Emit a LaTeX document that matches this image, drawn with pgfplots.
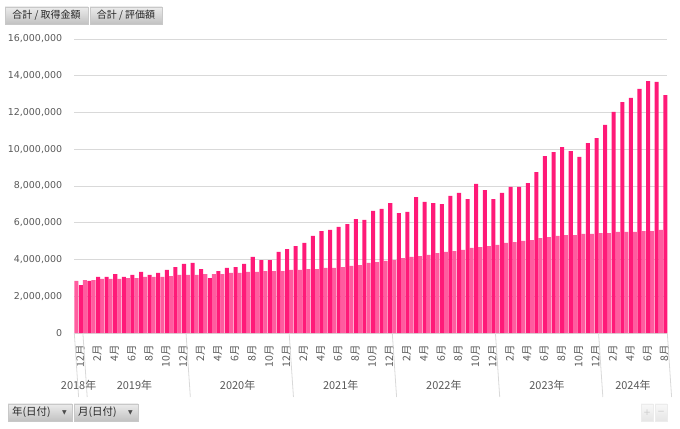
\documentclass[border=0pt]{standalone}
\usepackage{pgfplots}
\pgfplotsset{compat=1.18}
\usepackage{fontspec}
\setmainfont{DejaVu Sans}
\newfontfamily\jp{Noto Sans CJK JP}
\definecolor{darkpink}{HTML}{FF1A78}
\definecolor{lightpink}{HTML}{FF5C9F}
\definecolor{gridgray}{HTML}{D9D9D9}
\definecolor{labelgray}{HTML}{595959}
\definecolor{btntop}{HTML}{EBEBEB}
\definecolor{btnbot}{HTML}{C2C2C2}
\definecolor{btnedge}{HTML}{C8C8C8}
\begin{document}
\begin{tikzpicture}
\useasboundingbox (0,0) rectangle (680bp,429bp);
\begin{axis}[
  at={(74.3bp,96bp)}, anchor=south west,
  scale only axis, width=593bp, height=294bp,
  xmin=-0.5, xmax=68.5, ymin=0, ymax=16000000,
  ybar=0.5bp, bar width=0.47,
  clip=false,
  axis line style={draw=none},
  major tick length=0pt,
  ymajorgrids, grid style={gridgray, line width=0.8bp},
  ytick={0,2000000,4000000,6000000,8000000,10000000,12000000,14000000,16000000},
  scaled y ticks=false,
  yticklabel style={font=\fontsize{9.5}{11}\selectfont, text=labelgray, inner sep=0pt, anchor=east,
    /pgf/number format/.cd, fixed, 1000 sep={,}, assume math mode=true},
  yticklabel shift=12bp,
  xtick={0,2,...,68},
  xticklabels={12月,2月,4月,6月,8月,10月,12月,2月,4月,6月,8月,10月,12月,2月,4月,6月,8月,10月,12月,2月,4月,6月,8月,10月,12月,2月,4月,6月,8月,10月,12月,2月,4月,6月,8月},
  xticklabel style={font=\jp\fontsize{10.5}{12}\selectfont, text=labelgray, rotate=90, anchor=east, inner sep=0pt, yshift=-1.5bp},
  xticklabel shift=12bp,
]
% 合計 / 取得金額
\addplot[fill=lightpink, draw=none] coordinates {
(0,2830000) (1,2880000) (2,2880000) (3,2940000) (4,2940000) (5,2940000) (6,2990000) (7,2990000) (8,3050000) (9,3050000) (10,3050000) (11,3100000) (12,3160000)
(13,3160000) (14,3160000) (15,3210000) (16,3210000) (17,3210000) (18,3270000) (19,3270000) (20,3320000) (21,3320000) (22,3370000) (23,3370000) (24,3370000)
(25,3430000) (26,3430000) (27,3480000) (28,3480000) (29,3540000) (30,3540000) (31,3590000) (32,3650000) (33,3700000) (34,3810000) (35,3860000) (36,3920000)
(37,3970000) (38,4080000) (39,4140000) (40,4190000) (41,4250000) (42,4350000) (43,4410000) (44,4460000) (45,4520000) (46,4630000) (47,4680000) (48,4730000)
(49,4790000) (50,4900000) (51,4950000) (52,5010000) (53,5060000) (54,5170000) (55,5220000) (56,5280000) (57,5330000) (58,5330000) (59,5390000) (60,5390000)
(61,5440000) (62,5440000) (63,5500000) (64,5500000) (65,5500000) (66,5550000) (67,5550000) (68,5610000)
};
% 合計 / 評価額
\addplot[fill=darkpink, draw=none] coordinates {
(0,2610000) (1,2830000) (2,3050000) (3,3050000) (4,3210000) (5,3050000) (6,3160000) (7,3320000) (8,3160000) (9,3270000) (10,3430000) (11,3590000) (12,3760000)
(13,3810000) (14,3480000) (15,2990000) (16,3370000) (17,3540000) (18,3590000) (19,3760000) (20,4140000) (21,3970000) (22,3970000) (23,4410000) (24,4570000)
(25,4730000) (26,4900000) (27,5280000) (28,5550000) (29,5610000) (30,5770000) (31,5930000) (32,6200000) (33,6150000) (34,6640000) (35,6750000) (36,7070000)
(37,6530000) (38,6590000) (39,7400000) (40,7130000) (41,7070000) (42,7020000) (43,7460000) (44,7620000) (45,7290000) (46,8110000) (47,7780000) (48,7290000)
(49,7620000) (50,7950000) (51,7950000) (52,8160000) (53,8760000) (54,9630000) (55,9850000) (56,10120000) (57,9900000) (58,9580000) (59,10340000) (60,10610000)
(61,11320000) (62,12030000) (63,12570000) (64,12790000) (65,13280000) (66,13710000) (67,13660000) (68,12950000)
};
% year separators
\draw[gridgray, line width=0.8bp] (axis cs:-0.5,0) -- ++(0,-64bp);
\draw[gridgray, line width=0.8bp] (axis cs:0.5,0) -- ++(0,-64bp);
\draw[gridgray, line width=0.8bp] (axis cs:12.5,0) -- ++(0,-64bp);
\draw[gridgray, line width=0.8bp] (axis cs:24.5,0) -- ++(0,-64bp);
\draw[gridgray, line width=0.8bp] (axis cs:36.5,0) -- ++(0,-64bp);
\draw[gridgray, line width=0.8bp] (axis cs:48.5,0) -- ++(0,-64bp);
\draw[gridgray, line width=0.8bp] (axis cs:60.5,0) -- ++(0,-64bp);
\draw[gridgray, line width=0.8bp] (axis cs:68.5,0) -- ++(0,-64bp);
\node[font=\jp\fontsize{11}{12}\selectfont, text=labelgray, inner sep=0pt] at ([yshift=-52bp]axis cs:0,0) {2018年};
\node[font=\jp\fontsize{11}{12}\selectfont, text=labelgray, inner sep=0pt] at ([yshift=-52bp]axis cs:6.5,0) {2019年};
\node[font=\jp\fontsize{11}{12}\selectfont, text=labelgray, inner sep=0pt] at ([yshift=-52bp]axis cs:18.5,0) {2020年};
\node[font=\jp\fontsize{11}{12}\selectfont, text=labelgray, inner sep=0pt] at ([yshift=-52bp]axis cs:30.5,0) {2021年};
\node[font=\jp\fontsize{11}{12}\selectfont, text=labelgray, inner sep=0pt] at ([yshift=-52bp]axis cs:42.5,0) {2022年};
\node[font=\jp\fontsize{11}{12}\selectfont, text=labelgray, inner sep=0pt] at ([yshift=-52bp]axis cs:54.5,0) {2023年};
\node[font=\jp\fontsize{11}{12}\selectfont, text=labelgray, inner sep=0pt] at ([yshift=-52bp]axis cs:64.5,0) {2024年};
\end{axis}
% field buttons top
\shade[top color=btntop, bottom color=btnbot, draw=btnedge] (5bp,405bp) rectangle (88bp,422bp);
\node[font=\jp\fontsize{10}{11}\selectfont, text=black!85, inner sep=0pt] at (46.5bp,413.5bp) {合計 / 取得金額};
\shade[top color=btntop, bottom color=btnbot, draw=btnedge] (90bp,405bp) rectangle (162bp,422bp);
\node[font=\jp\fontsize{10}{11}\selectfont, text=black!85, inner sep=0pt] at (126bp,413.5bp) {合計 / 評価額};
% field buttons bottom
\shade[top color=btntop, bottom color=btnbot, draw=btnedge] (8bp,8bp) rectangle (72bp,25bp);
\node[font=\jp\fontsize{10.5}{11}\selectfont, text=black!85, inner sep=0pt, anchor=west] at (12bp,16.5bp) {年(日付)};
\node[font=\fontsize{6}{6}\selectfont, text=black!70, inner sep=0pt] at (64.5bp,16.5bp) {▼};
\shade[top color=btntop, bottom color=btnbot, draw=btnedge] (74bp,8bp) rectangle (138bp,25bp);
\node[font=\jp\fontsize{10.5}{11}\selectfont, text=black!85, inner sep=0pt, anchor=west] at (78bp,16.5bp) {月(日付)};
\node[font=\fontsize{6}{6}\selectfont, text=black!70, inner sep=0pt] at (130.5bp,16.5bp) {▼};
% +/- buttons
\shade[top color=white!95!gray, bottom color=white!80!gray, draw=white!85!gray] (641bp,8bp) rectangle (653bp,25bp);
\node[font=\fontsize{9}{10}\selectfont, text=white!60!gray, inner sep=0pt] at (647bp,16.5bp) {+};
\shade[top color=white!95!gray, bottom color=white!80!gray, draw=white!85!gray] (655bp,8bp) rectangle (667bp,25bp);
\node[font=\fontsize{9}{10}\selectfont, text=white!60!gray, inner sep=0pt] at (661bp,16.5bp) {−};
\end{tikzpicture}
\end{document}
